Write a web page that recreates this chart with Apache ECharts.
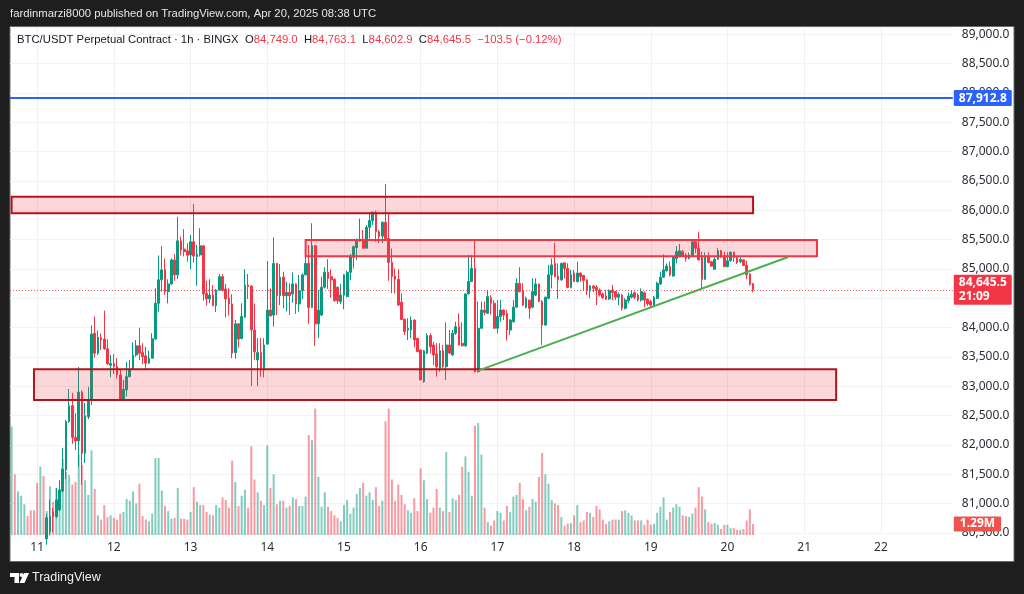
<!DOCTYPE html>
<html>
<head>
<meta charset="utf-8">
<title>BTC/USDT Perpetual Contract</title>
<style>
  html, body { margin: 0; padding: 0; background: #1e1e1e; }
  #main { width: 1024px; height: 594px; }
</style>
<script src="https://cdn.jsdelivr.net/npm/echarts@6/dist/echarts.min.js"></script>
</head>
<body>
<div id="main"></div>
<script>
// hourly rows: open, close, low, high
// the first rows are below the visible price range
const candles = [
  null, null, null, null, null, null, null, null, null, null, null,
  [80400,80760,80300,80830], [80525,80780,80460,81065], [80865,80780,80510,80930], [80780,81065,80750,81270],
  [80895,81235,80870,81400], [81215,81590,81190,81950], [81575,82400,81420,82430], [82400,82670,82380,82955],
  [82670,82130,82020,82890], [82130,82070,81915,82545], [82070,82900,81630,83330], [82900,81860,81320,82930],
  [81860,82500,81695,82715], [82480,82770,82440,82990], [82770,83890,82680,84040], [83905,83565,83490,84190],
  [83565,83835,83535,83950], [83830,83790,83620,83900], [83805,83640,83620,84290], [83640,83385,83370,83800],
  [83360,83390,83155,83535], [83385,83340,83210,83550], [83340,83195,83135,83480], [83195,82770,82755,83280],
  [82770,82950,82755,83110], [82940,83165,82825,83415], [83165,83290,83155,83450], [83290,83535,83280,83750],
  [83535,83690,83505,83790], [83690,83565,83450,84000], [83575,83505,83380,83735], [83520,83395,83295,83675],
  [83395,83480,83380,83610], [83480,83810,83470,83905], [83810,84415,83790,84670], [84415,84815,84275,85230],
  [84815,84985,84615,85390], [84995,84615,84560,85180], [84615,84745,84415,84825], [84745,85155,84730,85180],
  [85155,84900,84800,85255], [84900,85480,84830,85890], [85480,85325,85230,85550], [85340,85295,85215,85680],
  [85310,85235,85125,85440], [85240,85465,84995,85580], [85465,85220,85110,86110], [85210,85255,84715,85410],
  [85240,85395,85210,85695], [85395,84575,84460,85410], [84585,84490,84375,84800], [84490,84555,84415,84825],
  [84555,84375,84365,84730], [84375,84640,84265,84660], [84640,84870,84630,84915], [84870,84640,84615,84915],
  [84660,84490,84175,84745], [84500,84405,84205,84670], [84405,83565,83480,84570], [83575,84065,83470,84130],
  [84065,83805,83660,84075], [83815,84190,83800,84415], [84180,84725,84170,84995], [84725,84700,84490,84915],
  [84710,83960,83005,84720], [83960,83590,83450,84415], [83450,83575,83005,83820], [83575,83280,83165,83820],
  [83280,83705,83155,83820], [83720,84300,83710,85135], [84300,84200,84190,84670], [84215,85095,84020,85540],
  [85095,84545,84215,85105], [84545,84860,84385,85085], [84860,84545,84330,84955], [84545,84600,84275,84785],
  [84600,84545,84215,84755], [84575,84745,84425,84940], [84745,84405,84235,84755], [84405,84630,84270,84900],
  [84630,84900,84485,84925], [84900,85095,84890,85210], [85095,84345,84065,85410], [84345,85395,84330,85780],
  [85395,84065,83690,85410], [84065,84300,83820,84640], [84215,84690,84200,84870], [84690,84945,84670,85030],
  [84945,84840,84660,85170], [84870,84815,84510,84995], [84825,84460,84445,84840], [84690,84460,84405,84700],
  [84445,84555,84405,84745], [84555,84900,84315,84910], [84530,84945,84515,84970], [84945,85210,84810,85255],
  [85200,85380,85010,85400], [85365,85475,85155,85520], [85475,85510,85465,85860], [85505,85355,85350,85665],
  [85355,85710,85350,85750], [85710,85825,85520,85970], [85825,85970,85750,85980], [85970,85635,85465,85995],
  [85635,85560,85440,85665], [85560,85795,85440,85810], [85795,85520,85505,86450], [85520,85110,84800,85950],
  [85110,84870,84585,85350], [84880,84825,84585,85010], [84825,84385,84370,84995], [84435,84140,84135,84585],
  [84145,83935,83875,84150], [83960,83990,83790,84160], [83960,84130,83820,84190], [84130,83790,83665,84140],
  [83820,83590,83585,83825], [83620,83110,83105,83625], [83080,83605,83060,83620], [83565,83865,83550,83905],
  [83865,83675,83555,83905], [83705,83535,83365,83760], [83550,83335,83165,83735], [83310,83605,83250,83735],
  [83605,83335,83310,83705], [83335,83705,83110,84090], [83705,83565,83560,83960], [83535,83905,83520,83960],
  [83905,84015,83875,84100], [84015,83705,83700,84245], [83735,83690,83685,84090], [83690,84575,83675,84585],
  [84575,84785,84570,85240], [84785,85010,84780,85240], [85010,83250,83235,85480], [83250,83990,83235,84445],
  [83990,84300,83975,84445], [84300,84260,84215,84445], [84245,84530,84235,84640], [84510,84415,84225,84555],
  [84415,83990,83985,84470], [83990,84190,83905,84470], [84190,84300,84100,84470], [84300,84215,84130,84310],
  [84245,83960,83780,84300], [83960,84130,83875,84140], [84100,84350,84090,84470], [84350,84755,84345,84840],
  [84755,84615,84600,85030], [84630,84385,84370,84755], [84350,84500,84330,84530], [84470,84330,84150,84475],
  [84350,84615,84330,84840], [84555,84745,84540,84840], [84745,84445,84440,84750], [84445,84045,83705,84470],
  [84045,84520,84030,84530], [84500,84900,84485,85070], [84900,85070,84670,85180], [85095,84870,84860,85445],
  [84880,84815,84490,85095], [84815,85095,84800,85110], [85105,85010,84840,85110], [85010,84685,84680,85098],
  [84685,84900,84670,84985], [84930,84785,84780,84985], [84785,84930,84770,85125], [84930,84870,84785,84945],
  [84890,84805,84630,84900], [84815,84630,84555,84825], [84630,84710,84500,84725], [84710,84670,84600,84725],
  [84690,84640,84385,84725], [84640,84555,84530,84670], [84575,84510,84490,84600], [84540,84485,84470,84645],
  [84490,84630,84470,84655], [84640,84600,84470,84730], [84615,84520,84470,84626], [84520,84570,84385,84600],
  [84555,84330,84290,84575], [84330,84470,84310,84500], [84460,84540,84415,84600], [84520,84570,84500,84630],
  [84595,84520,84485,84615], [84555,84470,84445,84585], [84470,84615,84445,84670], [84595,84470,84350,84615],
  [84485,84405,84370,84500], [84445,84385,84350,84475], [84385,84520,84370,84540], [84500,84755,84485,84785],
  [84745,84860,84730,84955], [84860,84985,84845,85250], [84970,85050,84955,85095], [85040,84900,84870,85125],
  [84880,85200,84870,85210], [85180,85295,85095,85390], [85220,85310,85200,85425], [85295,85220,85210,85325],
  [85240,85180,85125,85270], [85180,85240,85165,85280], [85220,85465,85210,85470], [85465,85355,85270,85495],
  [85355,85155,85150,85635], [85200,84825,84670,85295], [84825,85200,84815,85285], [85200,85110,85095,85285],
  [85125,85050,85040,85140], [84995,85165,84985,85200], [85165,85310,85155,85355], [85310,85220,85185,85325],
  [85220,85040,85035,85295], [85040,85140,85030,85285], [85140,85285,85125,85295], [85285,85195,85125,85295],
  [85195,85110,85085,85210], [85125,85165,85100,85200], [85155,85060,85050,85165], [85060,84900,84825,85140],
  [84915,84740,84715,84925], [84749,84645.5,84602.9,84763.1]
];

// volume in millions, one value per hour
const volumes = [
  12.7,7.1,5.1,4.6,3.6,2.2,2.9,2.9,6.1,8.0,6.9,2.8,5.7,3.9,5.5,4.5,8.9,7.4,7.0,5.9,
  6.2,9.4,8.2,6.4,4.7,9.9,5.4,2.3,1.8,3.5,2.1,2.3,2.0,1.8,2.5,2.7,4.2,4.0,5.1,3.7,
  6.0,2.2,1.8,1.6,2.5,9.0,9.0,5.2,3.4,2.8,1.9,2.0,5.5,1.9,1.9,1.8,2.7,5.6,3.9,3.5,
  3.5,2.7,2.4,2.3,3.5,3.2,4.4,4.1,3.2,8.7,6.2,3.4,4.6,5.3,3.2,10.4,6.5,5.0,4.0,3.5,
  10.5,5.5,7.1,3.6,4.0,4.0,3.2,3.4,4.4,4.2,3.4,3.4,4.5,11.7,11.1,14.8,6.8,3.3,5.0,3.3,
  2.8,2.3,2.0,1.6,3.5,4.1,2.5,3.2,4.8,5.5,6.1,4.6,5.0,4.1,5.6,3.4,4.0,13.3,14.8,6.5,
  4.0,5.9,4.7,3.6,2.9,2.6,4.3,2.8,7.8,6.4,4.2,2.6,3.2,5.4,3.2,2.8,9.7,2.7,4.3,4.1,
  4.7,8.0,9.2,7.4,4.6,12.8,13.1,9.4,3.2,1.5,1.1,1.7,2.8,2.6,1.7,3.4,2.7,4.5,4.7,6.1,
  4.2,2.9,3.3,4.2,3.9,6.8,9.6,7.1,6.0,4.1,3.7,3.5,2.1,1.1,1.3,1.4,2.3,3.5,1.5,1.7,
  2.7,2.6,2.1,3.4,3.0,1.8,1.3,1.6,1.8,1.8,1.8,2.8,2.9,2.6,2.3,1.7,1.7,1.7,1.2,1.8,
  1.2,1.3,2.6,3.3,4.4,1.8,2.7,3.2,3.6,3.3,2.3,2.2,2.1,2.5,3.2,5.6,4.5,3.0,1.5,1.3,
  1.4,1.2,0.7,1.2,1.2,0.8,0.8,0.6,0.6,0.7,1.7,3.0,1.29
];
// bar direction for the hours whose candles are off the chart
const earlyVolumeUp = [1,0,1,1,1,0,0,0,0,1,0];

// boxes drawn on the chart: first hour, last hour, top price, bottom price
const zoneStart = [-1, 92, 7];
const zoneEnd = [232, 252, 258];
const zoneTop = [86233, 85495, 83292];
const zoneBottom = [85950, 85217, 82768];
const zoneBorder = ['#b2141e', '#f23645', '#b2141e'];

const trendFrom = [146, 83268];
const trendTo = [243, 85205];
const bluePrice = 87912.8;
const lastPrice = 84645.5;
const countdown = '21:09';
const lastVolume = 1.29;

const hoursShown = 295;
const firstHour = 16; // Apr 10, 16:00
const categories = [];
for (let i = 0; i < hoursShown; i++) {
  const total = firstHour + i;
  categories.push((10 + Math.floor(total / 24)) + ' ' + (total % 24));
}

const upColor = '#089981';
const downColor = '#f23645';
const axisFont = '"Noto Sans", sans-serif';
const headerFont = '"Liberation Sans", sans-serif';

function priceLabel(v) {
  return v.toLocaleString('en-US', {minimumFractionDigits: 1, maximumFractionDigits: 1});
}
function isDayStart(index, value) {
  return / 0$/.test(value);
}
function volumeIsUp(i) {
  return candles[i] ? candles[i][1] >= candles[i][0] : earlyVolumeUp[i] === 1;
}

const myChart = echarts.init(document.getElementById('main'));

const volumeData = volumes.map((v, i) => ({
  value: v,
  itemStyle: {color: volumeIsUp(i) ? 'rgba(8,153,129,0.5)' : 'rgba(242,54,69,0.5)'}
}));

const zoneAreas = zoneStart.map((start, i) => [
  {coord: [start, zoneTop[i]], itemStyle: {color: 'rgba(242,54,69,0.2)', borderColor: zoneBorder[i], borderWidth: 2}},
  {coord: [zoneEnd[i], zoneBottom[i]]}
]);

const option = {
  animation: false,
  backgroundColor: '#1e1e1e',
  graphic: [
    {type: 'rect', z: -10, shape: {x: 10, y: 26.5, width: 1004, height: 535}, style: {fill: '#fff', stroke: '#6a6a6a', lineWidth: 1}},
    {type: 'text', z: 20, left: 10, top: 8, style: {text: 'fardinmarzi8000 published on TradingView.com, Apr 20, 2025 08:38 UTC', fill: '#e6e6e6', font: '11.3px ' + headerFont}},
    {type: 'text', z: 20, left: 17, top: 34, style: {
      text: '{b|BTC/USDT Perpetual Contract · 1h · BINGX}  {b|O}{r|84,749.0}  {b|H}{r|84,763.1}  {b|L}{r|84,602.9}  {b|C}{r|84,645.5}  {r|−103.5 (−0.12%)}',
      font: '11.3px ' + headerFont,
      rich: {
        b: {fill: '#131722', font: '11.3px ' + headerFont},
        r: {fill: '#f23645', font: '11.3px ' + headerFont}
      }
    }},
    // logo
    {type: 'group', z: 20, left: 10, top: 573, children: [
      {type: 'polygon', shape: {points: [[0, 0], [9, 0], [9, 10], [4.5, 10], [4.5, 4], [0, 4]]}, style: {fill: '#fff'}},
      {type: 'circle', shape: {cx: 11.5, cy: 2, r: 2}, style: {fill: '#fff'}},
      {type: 'polygon', shape: {points: [[14, 0], [19, 0], [14.5, 10], [9.5, 10]]}, style: {fill: '#fff'}}
    ]},
    {type: 'text', z: 20, left: 32, top: 571, style: {text: 'TradingView', fill: '#f0f0f0', font: '12.5px ' + headerFont}}
  ],
  grid: [
    {left: 10, right: 71.2, top: 27, bottom: 61},
    {left: 10, right: 71.2, top: 400, bottom: 59}
  ],
  xAxis: [
    {
      type: 'category', gridIndex: 0, data: categories,
      axisLine: {show: false}, axisTick: {show: false}, axisLabel: {show: false},
      splitLine: {show: true, alignWithLabel: true, interval: isDayStart, lineStyle: {color: '#f0f0f0', width: 1}}
    },
    {
      type: 'category', gridIndex: 1, data: categories,
      axisLine: {show: false}, axisTick: {show: false}, splitLine: {show: false},
      axisLabel: {
        interval: isDayStart, margin: 7, color: '#2a2e39', fontSize: 12, fontFamily: axisFont,
        formatter: (v) => v.split(' ')[0]
      }
    }
  ],
  yAxis: [
    {
      type: 'value', gridIndex: 0, position: 'right', min: 80500, max: 89125, interval: 500,
      axisLine: {show: false}, axisTick: {show: false},
      axisLabel: {showMaxLabel: false, margin: 9, padding: [0, 0, 2, 0], color: '#2a2e39', fontSize: 12, fontFamily: axisFont, formatter: priceLabel},
      splitLine: {show: true, lineStyle: {color: '#f3f3f3', width: 1}}
    },
    {
      type: 'value', gridIndex: 1, position: 'right', min: 0, max: 15.8,
      axisLine: {show: false}, axisTick: {show: false}, axisLabel: {show: false}, splitLine: {show: false}
    }
  ],
  series: [
    {
      name: 'Volume', type: 'bar', xAxisIndex: 1, yAxisIndex: 1, z: 1,
      data: volumeData, barWidth: 2,
      markLine: {
        silent: true, symbol: 'none', z: 30,
        data: [{
          yAxis: lastVolume,
          lineStyle: {color: 'transparent'},
          label: {
            show: true, position: 'end', distance: 1, formatter: '1.29M',
            color: '#fff', backgroundColor: '#ef5350', fontSize: 12, fontWeight: 'bold', fontFamily: axisFont,
            padding: [2, 6, 1, 6], borderRadius: 1
          }
        }]
      }
    },
    {
      name: 'BTC/USDT', type: 'candlestick', xAxisIndex: 0, yAxisIndex: 0, z: 2,
      data: candles.map((c) => c || '-'), barWidth: 2.2,
      itemStyle: {color: upColor, color0: downColor, borderColor: upColor, borderColor0: downColor, borderColorDoji: upColor, borderWidth: 1},
      markArea: {silent: true, z: 3, data: zoneAreas},
      markLine: {
        silent: true, symbol: 'none', z: 30, animation: false,
        data: [
          [
            {coord: trendFrom, lineStyle: {color: '#4caf50', width: 2, type: 'solid'}, label: {show: false}},
            {coord: trendTo}
          ],
          {
            yAxis: bluePrice,
            lineStyle: {color: '#2962ff', width: 2, type: 'solid'},
            label: {
              show: true, position: 'end', distance: 1, formatter: priceLabel(bluePrice),
              color: '#fff', backgroundColor: '#2962ff', fontSize: 12, fontWeight: 'bold', fontFamily: axisFont,
              padding: [2, 5], borderRadius: 1
            }
          },
          {
            yAxis: lastPrice,
            lineStyle: {color: 'rgba(242,54,69,0.8)', width: 1, type: [1, 2]},
            label: {
              show: true, position: 'end', distance: 1, formatter: priceLabel(lastPrice) + '\n' + countdown,
              color: '#fff', backgroundColor: '#f23645', fontSize: 12, fontWeight: 'bold', fontFamily: axisFont,
              padding: [1, 5], borderRadius: 1, align: 'left', lineHeight: 14
            }
          }
        ]
      }
    }
  ]
};

myChart.setOption(option);
window.addEventListener('resize', myChart.resize, {passive: true});
</script>
</body>
</html>
